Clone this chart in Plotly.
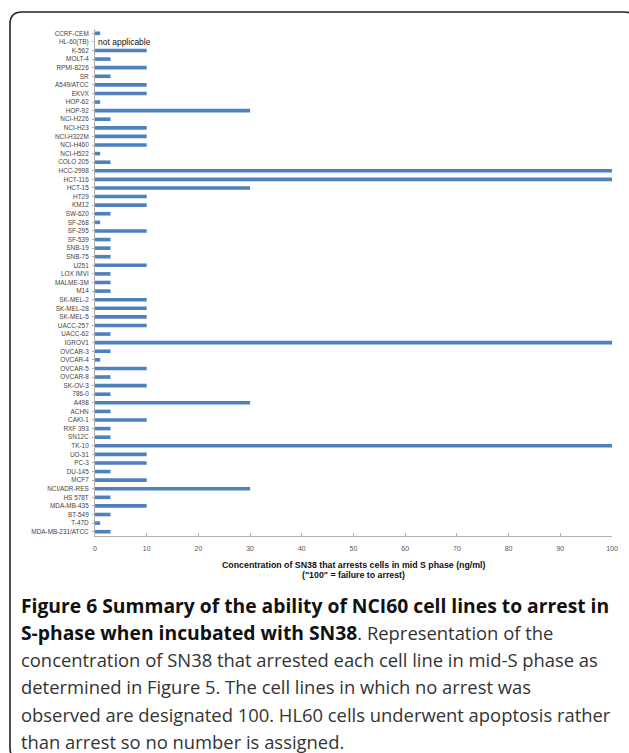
import plotly.graph_objects as go

cell_lines = [
    "CCRF-CEM", "HL-60(TB)", "K-562", "MOLT-4", "RPMI-8226", "SR",
    "A549/ATCC", "EKVX", "HOP-62", "HOP-92", "NCI-H226", "NCI-H23",
    "NCI-H322M", "NCI-H460", "NCI-H522", "COLO 205", "HCC-2998", "HCT-116",
    "HCT-15", "HT29", "KM12", "SW-620", "SF-268", "SF-295", "SF-539",
    "SNB-19", "SNB-75", "U251", "LOX IMVI", "MALME-3M", "M14", "SK-MEL-2",
    "SK-MEL-28", "SK-MEL-5", "UACC-257", "UACC-62", "IGROV1", "OVCAR-3",
    "OVCAR-4", "OVCAR-5", "OVCAR-8", "SK-OV-3", "786-0", "A498", "ACHN",
    "CAKI-1", "RXF 393", "SN12C", "TK-10", "UO-31", "PC-3", "DU-145",
    "MCF7", "NCI/ADR-RES", "HS 578T", "MDA-MB-435", "BT-549", "T-47D",
    "MDA-MB-231/ATCC",
]
concentration = [
    1, None, 10, 3, 10, 3,
    10, 10, 1, 30, 3, 10,
    10, 10, 1, 3, 100, 100,
    30, 10, 10, 3, 1, 10, 3,
    3, 3, 10, 3, 3, 3, 10,
    10, 10, 10, 3, 100, 3,
    1, 10, 3, 10, 3, 30, 3,
    10, 3, 3, 100, 10, 10, 3,
    10, 30, 3, 10, 3, 1,
    3,
]
x_ticks = [0, 10, 20, 30, 40, 50, 60, 70, 80, 90, 100]

W, H = 629, 753
L, R, T, B = 95, 612, 29, 536

def px(x):
    return (x - L) / (R - L)

def py(y):
    return 1 - (y - T) / (B - T)

fig = go.Figure()
fig.add_trace(go.Bar(
    y=cell_lines, x=concentration, orientation="h",
    marker=dict(color="#4F81BD", line=dict(width=0)),
    width=0.42, hoverinfo="skip",
))

annotations = [
    dict(text="not applicable", x=0, y="HL-60(TB)", xref="x", yref="y",
         xanchor="left", yanchor="middle", showarrow=False, xshift=1,
         font=dict(size=8.5, color="#111", family="Liberation Sans, Arial")),
    dict(text="<b>Concentration of SN38 that arrests cells in mid S phase (ng/ml)</b>",
         x=0.5, y=py(565), xref="paper", yref="paper", xanchor="center",
         yanchor="middle", showarrow=False,
         font=dict(size=8.8, color="#111", family="Liberation Sans, Arial")),
    dict(text="<b>(\"100\" = failure to arrest)</b>",
         x=0.5, y=py(575), xref="paper", yref="paper", xanchor="center",
         yanchor="middle", showarrow=False,
         font=dict(size=8.8, color="#111", family="Liberation Sans, Arial")),
]

BS = "<b><span style='font-size:19.3px;color:#111'>{}</span></b>"
caption = [
    BS.format("Figure 6 Summary of the ability of NCI60 cell lines to arrest in"),
    BS.format("S-phase when incubated with SN38") + ". Representation of the",
    "concentration of SN38 that arrested each cell line in mid-S phase as",
    "determined in Figure 5. The cell lines in which no arrest was",
    "observed are designated 100. HL60 cells underwent apoptosis rather",
    "than arrest so no number is assigned.",
]
for i, line in enumerate(caption):
    annotations.append(dict(
        text=line, x=px(19), y=py(605 + 27.3 * i), xref="paper", yref="paper",
        xanchor="left", yanchor="middle", showarrow=False,
        font=dict(size=18.4, color="#333", family="Open Sans, Noto Sans"),
    ))

# rounded frame
x0, y0, x1, y1, r = 10, 12, 636, 760, 12
path = (f"M {px(x0)} {py(y0 + r)} L {px(x0)} {py(y1 - r)} "
        f"Q {px(x0)} {py(y1)} {px(x0 + r)} {py(y1)} L {px(x1 - r)} {py(y1)} "
        f"Q {px(x1)} {py(y1)} {px(x1)} {py(y1 - r)} L {px(x1)} {py(y0 + r)} "
        f"Q {px(x1)} {py(y0)} {px(x1 - r)} {py(y0)} L {px(x0 + r)} {py(y0)} "
        f"Q {px(x0)} {py(y0)} {px(x0)} {py(y0 + r)} Z")

fig.update_layout(
    width=W, height=H,
    margin=dict(l=L, r=W - R, t=T, b=H - B, pad=0),
    paper_bgcolor="white", plot_bgcolor="white",
    showlegend=False,
    font=dict(family="Liberation Sans, Arial", color="#444"),
    annotations=annotations,
    shapes=[dict(type="path", path=path, xref="paper", yref="paper",
                 line=dict(color="#222", width=1.6), layer="above")],
    bargap=0.5,
)
fig.update_xaxes(
    range=[0, 100], tickvals=x_ticks, showgrid=False, zeroline=False,
    showline=True, linecolor="#b0b0b0", linewidth=1,
    ticks="inside", ticklen=3, tickcolor="#b0b0b0",
    tickfont=dict(size=7, color="#555"), ticklabelstandoff=6,
)
fig.update_yaxes(
    autorange="reversed", showgrid=False, zeroline=False,
    showline=True, linecolor="#b0b0b0", linewidth=1,
    ticks="outside", ticklen=2, tickcolor="#b0b0b0",
    tickfont=dict(size=6.4, color="#444"), ticklabelstandoff=2,
)

fig.write_html(
    "out.html",
    config={"displayModeBar": False},
    post_script="document.body.style.margin='0';document.body.style.overflow='hidden';",
)
